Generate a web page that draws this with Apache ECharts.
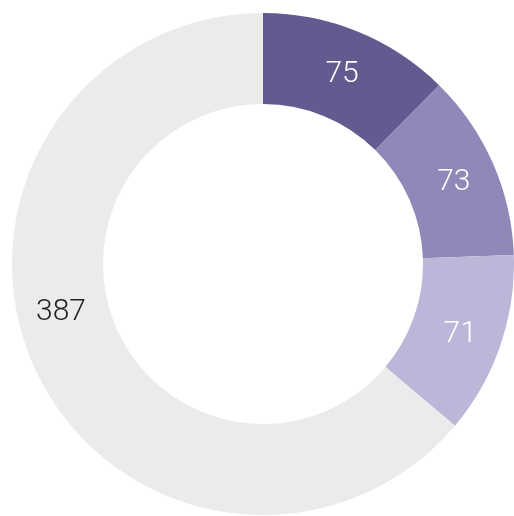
<!DOCTYPE html>
<html>
<head>
<meta charset="utf-8">
<script src="https://cdn.jsdelivr.net/npm/echarts@6/dist/echarts.min.js"></script>
<style>
html, body { margin: 0; padding: 0; background: #fff; }
#main { width: 514px; height: 516px; }
</style>
</head>
<body>
<div id="main"></div>
<script>
var names = ['A', 'B', 'C', 'Other'];
var values = [75, 73, 71, 387];
var colors = ['#635b8f', '#8f89b9', '#bcb7d8', '#ebebeb'];
var labelColors = ['#ffffff', '#ffffff', '#ffffff', '#222222'];

var myChart = echarts.init(document.getElementById('main'));

var option = {
    animation: false,
    series: [{
        type: 'pie',
        center: [263, 264],
        radius: [160, 251],
        startAngle: 90,
        clockwise: true,
        data: values.map(function (v, i) {
            return {
                name: names[i],
                value: v,
                itemStyle: { color: colors[i] },
                label: { color: labelColors[i] }
            };
        }),
        label: {
            show: true,
            position: 'inside',
            formatter: '{c}',
            fontFamily: 'Roboto',
            fontWeight: 300,
            fontSize: 30
        },
        // 标签整体略下移，灰色扇区标签单独偏移
        labelLayout: function (params) {
            if (params.dataIndex === 3) {
                return { dx: -13, dy: -39 };
            }
            return { dy: 3 };
        },
        emphasis: { disabled: true }
    }]
};

myChart.setOption(option);
</script>
</body>
</html>
